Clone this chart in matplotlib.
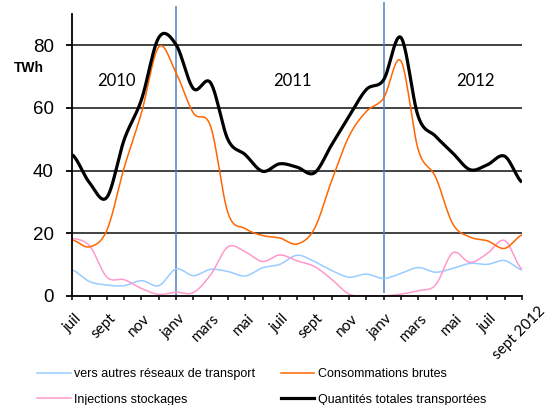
import numpy as np
import matplotlib
matplotlib.use("Agg")
import matplotlib.pyplot as plt
from matplotlib.lines import Line2D

# ---- data (monthly, juil 2010 .. sept 2012) ----
months = list(range(27))
autres_reseaux = [8.3, 4.6, 3.5, 3.3, 4.9, 3.3, 8.6, 6.5, 8.5, 7.8, 6.4, 9.0, 10.1, 13.0,
                  11.0, 8.1, 6.0, 7.0, 5.6, 7.2, 9.1, 7.6, 8.8, 10.4, 10.1, 11.3, 8.3]
injections = [18.4, 16.0, 6.0, 5.2, 2.4, 0.5, 1.2, 1.1, 6.8, 15.7, 14.1, 11.0, 13.1, 11.2,
              9.4, 5.3, 0.6, 0.0, 0.0, 0.6, 1.7, 3.5, 13.8, 10.7, 13.6, 17.7, 8.5]
consommations = [17.9, 15.7, 21.0, 41.0, 58.5, 79.5, 71.2, 58.4, 54.1, 26.5, 21.5, 19.3, 18.5, 16.6,
                 21.5, 36.9, 51.0, 58.9, 63.2, 75.0, 46.7, 38.0, 23.0, 18.8, 17.6, 15.2, 19.5]
totales = [45.1, 36.1, 31.5, 49.9, 62.7, 82.5, 80.2, 66.2, 68.0, 49.9, 45.1, 39.8, 42.2, 41.1,
           39.3, 48.3, 57.3, 65.9, 69.0, 82.5, 57.3, 51.0, 45.6, 40.3, 41.9, 44.6, 36.3]

tick_pos = list(range(0, 27, 2))
tick_labels = ['juil', 'sept', 'nov', 'janv', 'mars', 'mai', 'juil', 'sept', 'nov',
               'janv', 'mars', 'mai', 'juil', 'sept 2012']
year_labels = ['2010', '2011', '2012']
year_pos = [2.55, 12.75, 23.3]
janv_pos = [6, 18]


def smooth(x, y, n=24):
    """Catmull-Rom rendering of a line (like Excel's smoothed line)."""
    x = np.asarray(x, float)
    y = np.asarray(y, float)
    yp = np.concatenate([[y[0]], y, [y[-1]]])
    xs, ys = [], []
    for i in range(len(x) - 1):
        p0, p1, p2, p3 = yp[i], yp[i + 1], yp[i + 2], yp[i + 3]
        m1 = (p2 - p0) / 2.0
        m2 = (p3 - p1) / 2.0
        t = np.linspace(0, 1, n, endpoint=False)
        h00 = 2 * t**3 - 3 * t**2 + 1
        h10 = t**3 - 2 * t**2 + t
        h01 = -2 * t**3 + 3 * t**2
        h11 = t**3 - t**2
        xs.append(x[i] + t * (x[i + 1] - x[i]))
        ys.append(h00 * p1 + h10 * m1 + h01 * p2 + h11 * m2)
    xs.append([x[-1]])
    ys.append([y[-1]])
    return np.concatenate(xs), np.concatenate(ys)


fig = plt.figure(figsize=(5.52, 4.05), dpi=100)
ax = fig.add_axes([72.3 / 552, 109 / 405, (522 - 72.3) / 552, (391 - 109) / 405])

col_blue = '#99CCFF'
col_pink = '#FF99CC'
col_orange = '#FF6600'
col_black = '#000000'

# gridlines
for v in [20, 40, 60, 80]:
    ax.axhline(v, color='#333333', lw=1.3, zorder=1)

# janv vertical lines
ax.vlines(janv_pos[0], 0, 92.5, color='#4F81BD', lw=1.1, clip_on=False, zorder=2)
ax.vlines(janv_pos[1], 0.9, 93.7, color='#4F81BD', lw=1.1, clip_on=False, zorder=2)

sx, sy = smooth(months, autres_reseaux)
ax.plot(sx, sy, color=col_blue, lw=1.1, zorder=3)
sx, sy = smooth(months, injections)
ax.plot(sx, sy, color=col_pink, lw=1.1, zorder=3)
sx, sy = smooth(months, consommations)
ax.plot(sx, sy, color=col_orange, lw=1.1, zorder=4)
sx, sy = smooth(months, totales)
ax.plot(sx, sy, color=col_black, lw=2.3, zorder=5, solid_capstyle='butt')

ax.set_xlim(0, 26)
ax.set_ylim(0, 90)
ax.spines['top'].set_visible(False)
ax.spines['right'].set_visible(False)
for s in ['left', 'bottom']:
    ax.spines[s].set_linewidth(1.3)
    ax.spines[s].set_color('black')
    ax.spines[s].set_zorder(6)

ax.set_yticks([0, 20, 40, 60, 80])
ax.set_yticklabels(['0', '20', '40', '60', '80'], family='Liberation Sans', fontsize=13.5)
ax.tick_params(axis='y', length=4.3, width=1.3, pad=9, direction='out')

ax.set_xticks(months)
ax.set_xticklabels([])
ax.tick_params(axis='x', length=3.1, width=1.1, direction='out')
for p, lab in zip(tick_pos, tick_labels):
    if lab == 'sept 2012':
        ax.text(26.95, -2.6, lab, rotation=45, ha='right', va='top', rotation_mode='anchor',
                family='Lato', fontsize=11, clip_on=False)
    else:
        ax.text(p + 0.1, -4.8, lab, rotation=45, ha='right', va='top', rotation_mode='anchor',
                family='Lato', fontsize=11, clip_on=False)

for p, lab in zip(year_pos, year_labels):
    ax.text(p, 68.5, lab, ha='center', va='center', family='Lato', fontsize=12)

fig.text(29 / 552, 1 - 68 / 405, 'TWh', ha='center', va='center', family='Liberation Sans',
         fontsize=10, fontweight='bold')

handles = [Line2D([], [], color=col_blue, lw=1.1),
           Line2D([], [], color=col_pink, lw=1.1),
           Line2D([], [], color=col_orange, lw=1.1),
           Line2D([], [], color=col_black, lw=2.3)]
labels = ['vers autres réseaux de transport', 'Injections stockages',
          'Consommations brutes', 'Quantités totales transportées']
fig.legend(handles, labels, loc='upper left', bbox_to_anchor=(37 / 552, 1 - 368 / 405),
           ncol=2, frameon=False, prop={'family': 'Liberation Sans', 'size': 9},
           handlelength=2.7, handletextpad=0.3, columnspacing=2.0, borderpad=0,
           borderaxespad=0, labelspacing=1.1)

fig.savefig('out.png', dpi=100)
